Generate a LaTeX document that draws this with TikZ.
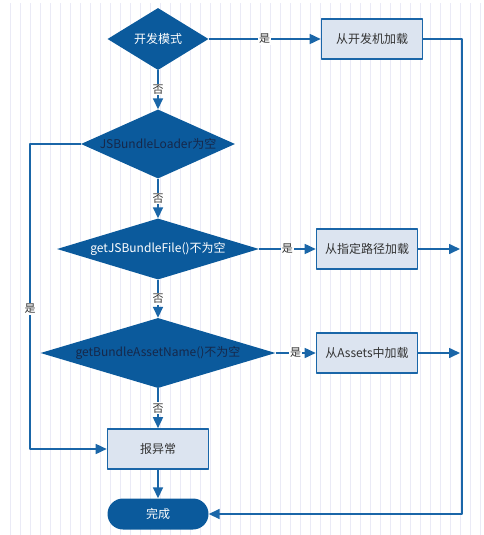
\documentclass[tikz,border=0pt]{standalone}
\usepackage{fontspec}
\setmainfont{Noto Sans CJK SC}
\usetikzlibrary{shapes.geometric,arrows.meta}
\definecolor{flowdark}{HTML}{0B5A9C}
\definecolor{flowline}{HTML}{1A66A8}
\definecolor{flowbox}{HTML}{DCE4F0}
\definecolor{flowtext}{HTML}{333333}
\definecolor{flownavy}{HTML}{16284A}
\definecolor{gridcol}{HTML}{EAEAF6}
\begin{document}
\begin{tikzpicture}[x=1pt,y=-1pt,>={Triangle[length=11pt,width=10pt]},line join=round]
	\tikzset{decide/.style={diamond,fill=flowdark,inner sep=0pt,text=white,
			font=\fontsize{12}{14}\selectfont},
		procbox/.style={rectangle,draw=flowline,fill=flowbox,line width=1.6pt,
			minimum width=101pt,minimum height=40pt,text=flowtext,font=\fontsize{12}{14}\selectfont},
		endcap/.style={rectangle,rounded corners=15.5pt,fill=flowdark,text=white,
			minimum width=101pt,minimum height=31pt,font=\fontsize{12}{14}\selectfont},
		flow/.style={draw=flowline,line width=1.6pt},
		tag/.style={fill=white,inner sep=1pt,text=flowtext,font=\fontsize{11}{13}\selectfont}}
	\useasboundingbox (0,0) rectangle (483,535);
	\draw[gridcol,line width=0.6pt,step=10] (3,3) grid (483,535);
	% decisions
	\node[decide,aspect=1.63,minimum width=101pt,minimum height=62pt] (mode) at (158,39) {开发模式};
	\node[decide,aspect=2.23,minimum width=154pt,minimum height=69pt,text=flownavy] (loader) at (158,144) {JSBundleLoader为空};
	\node[decide,aspect=3.31,minimum width=202pt,minimum height=61pt] (file) at (158,249) {getJSBundleFile()不为空};
	\node[decide,aspect=3.36,minimum width=235pt,minimum height=70pt,text=flownavy] (asset) at (158,353) {getBundleAssetName()不为空};
	% actions
	\node[procbox] (devload) at (372,39) {从开发机加载};
	\node[procbox] (pathload) at (367,249) {从指定路径加载};
	\node[procbox] (assetload) at (367,353) {从Assets中加载};
	\node[procbox] (error) at (158,449) {报异常};
	\node[endcap] (done) at (158,514) {完成};
	\coordinate (railtop) at (462,39);
	\coordinate (railpath) at (460,249);
	\coordinate (railasset) at (460,353);
	\coordinate (leftrail) at (30,144);
	% connectors
	\draw[flow,->] (mode) -- (devload) node[tag,midway]{是};
	\draw[flow,->] (mode) -- (loader) node[tag,midway]{否};
	\draw[flow,->] (loader) -- (file) node[tag,midway]{否};
	\draw[flow,->] (file) -- (asset) node[tag,midway]{否};
	\draw[flow,->] (asset) -- (error) node[tag,midway]{否};
	\draw[flow,->] (file) -- (pathload) node[tag,midway]{是};
	\draw[flow,->] (asset) -- (assetload) node[tag,midway]{是};
	\draw[flow,->] (pathload) -- (railpath);
	\draw[flow,->] (assetload) -- (railasset);
	\draw[flow,->] (error) -- (done);
	\draw[flow,->] (devload.east) -- (railtop) |- (done.east);
	\draw[flow,->] (loader.west) -- (leftrail) |- (error.west) node[tag,pos=0.27]{是};
\end{tikzpicture}
\end{document}
